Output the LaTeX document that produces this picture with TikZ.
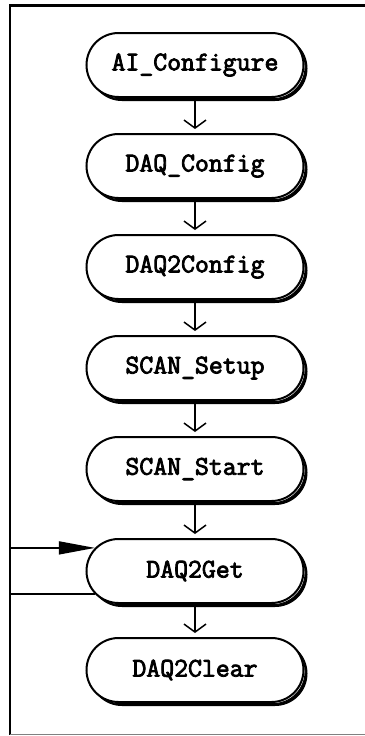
\documentclass[tikz,border=0pt]{standalone}
\usepackage{fontspec}
\newfontfamily\courfam{Latin Modern Mono}[FakeBold=3]
\usetikzlibrary{shapes.misc,shadows,arrows.meta}
\tikzset{
  proc/.style={rounded rectangle, draw=black, line width=2pt, fill=white,
    minimum width=217pt, minimum height=64pt, inner sep=0pt,
    font=\courfam\fontsize{27}{27}\selectfont,
    general shadow={fill=black, draw=black, line width=1pt, shadow xshift=3.5pt, shadow yshift=-3.5pt},
    general shadow={fill=white, draw=black, line width=1pt, shadow xshift=1.6pt, shadow yshift=-1.6pt}},
  varrow/.style={line width=1.5pt, -{Straight Barb[length=8pt,width=22pt,line width=1.5pt]}, shorten >=4pt},
  loopline/.style={line width=1.5pt},
  framel/.style={line width=2.5pt}
}
\begin{document}
\begin{tikzpicture}[x=1pt,y=-1pt]
\useasboundingbox (0,0) rectangle (364,736);
% frame
\draw[framel] (370,5.5) -- (10,5.5) -- (10,735);
\draw[gray, line width=1.5pt] (10,734.5) -- (370,734.5);
\coordinate (fl) at (10,0);
% nodes
\node[proc] (n1) at (195,65)  {AI\_Configure};
\node[proc] (n2) at (195,166) {DAQ\_Config};
\node[proc] (n3) at (195,267) {DAQ2Config};
\node[proc] (n4) at (195,368) {SCAN\_Setup};
\node[proc] (n5) at (195,469) {SCAN\_Start};
\node[proc] (n6) at (195,571) {DAQ2Get};
\node[proc] (n7) at (195,670) {DAQ2Clear};
% connectors
\foreach \a/\b in {n1/n2,n2/n3,n3/n4,n4/n5,n5/n6,n6/n7}
  \draw[varrow] (\a.south) -- (\b.north);
% loop
\draw[loopline, -{Triangle[length=36pt,width=13pt]}] (fl |- n6.167) -- (n6.167);
\draw[loopline] (fl |- n6.193) -- (n6.193);
\end{tikzpicture}
\end{document}
